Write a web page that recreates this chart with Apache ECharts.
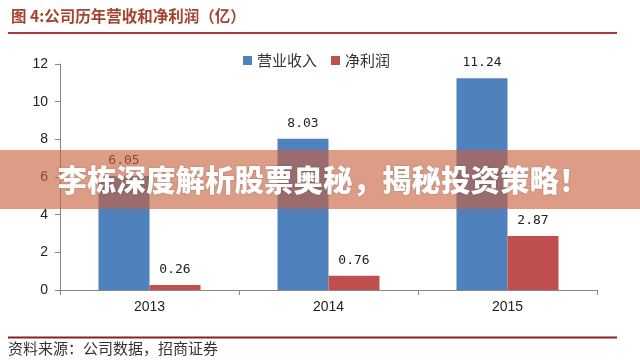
<!DOCTYPE html>
<html>
<head>
<meta charset="utf-8">
<script src="https://cdn.jsdelivr.net/npm/echarts@6/dist/echarts.min.js"></script>
<style>html,body{margin:0;padding:0;background:#fff}#c{width:640px;height:360px}</style>
</head>
<body>
<div id="c"></div>
<script>
var categories = ['2013', '2014', '2015'];
var revenue = [6.05, 8.03, 11.24];
var netProfit = [0.26, 0.76, 2.87];
var seriesNames = ['营业收入', '净利润'];
var yTicks = [0, 2, 4, 6, 8, 10, 12];
var titleText = '图 4:公司历年营收和净利润（亿）';
var sourceText = '资料来源：公司数据，招商证券';
var bannerText = '李栋深度解析股票奥秘，揭秘投资策略！';

var chart = echarts.init(document.getElementById('c'), null, {renderer: 'canvas'});
var labelStyle = {
  show: true, position: 'top', distance: 9,
  color: '#222', fontSize: 13, fontFamily: 'DejaVu Sans Mono, monospace'
};
var option = {
  backgroundColor: '#fff',
  animation: false,
  title: {
    text: titleText, left: 6, top: 3,
    textStyle: {color: '#a5432d', fontSize: 15.5, fontWeight: 'bold', fontFamily: 'Noto Sans CJK SC'}
  },
  legend: {
    data: seriesNames, left: 238, top: 48,
    itemWidth: 9, itemHeight: 9, itemGap: 14, icon: 'rect',
    textStyle: {color: '#333', fontSize: 15, fontFamily: 'Noto Sans CJK SC'}
  },
  grid: {left: 60, right: 43, top: 64, bottom: 70},
  xAxis: {
    type: 'category', data: categories,
    axisLine: {lineStyle: {color: '#888'}},
    axisTick: {show: true, length: 5, lineStyle: {color: '#888'}},
    axisLabel: {color: '#222', fontSize: 14, margin: 10, fontFamily: 'Liberation Sans, Arial'}
  },
  yAxis: {
    type: 'value', min: yTicks[0], max: yTicks[yTicks.length - 1], interval: 2,
    splitLine: {show: false},
    axisLine: {show: true, lineStyle: {color: '#888'}},
    axisTick: {show: true, length: 5, lineStyle: {color: '#888'}},
    axisLabel: {color: '#222', fontSize: 14, margin: 12, fontFamily: 'Liberation Sans, Arial'}
  },
  series: [
    {name: seriesNames[0], type: 'bar', data: revenue, barGap: '0%', barCategoryGap: '43%',
     itemStyle: {color: '#4f81bd'}, label: labelStyle},
    {name: seriesNames[1], type: 'bar', data: netProfit,
     itemStyle: {color: '#c0504d'}, label: labelStyle}
  ],
  graphic: [
    {type: 'line', shape: {x1: 8, y1: 33, x2: 617, y2: 33}, style: {stroke: '#b33a3a', lineWidth: 2}},
    {type: 'line', shape: {x1: 8, y1: 337.5, x2: 617, y2: 337.5}, style: {stroke: '#8b1f1f', lineWidth: 2}},
    {type: 'text', left: 8, top: 341,
     style: {text: sourceText, fill: '#333', fontSize: 15, fontFamily: 'Noto Sans CJK SC'}},
    {type: 'rect', z: 100, shape: {x: 0, y: 150, width: 640, height: 59},
     style: {fill: 'rgba(200,95,60,0.62)'}},
    {type: 'text', z: 101, x: 323, y: 180,
     style: {text: bannerText, fill: '#fff', fontSize: 29.5, fontWeight: 900,
             fontFamily: 'Noto Sans CJK SC', align: 'center', verticalAlign: 'middle',
             textShadowColor: 'rgba(0,0,0,0.25)', textShadowBlur: 2}}
  ]
};
chart.setOption(option);
</script>
</body>
</html>
